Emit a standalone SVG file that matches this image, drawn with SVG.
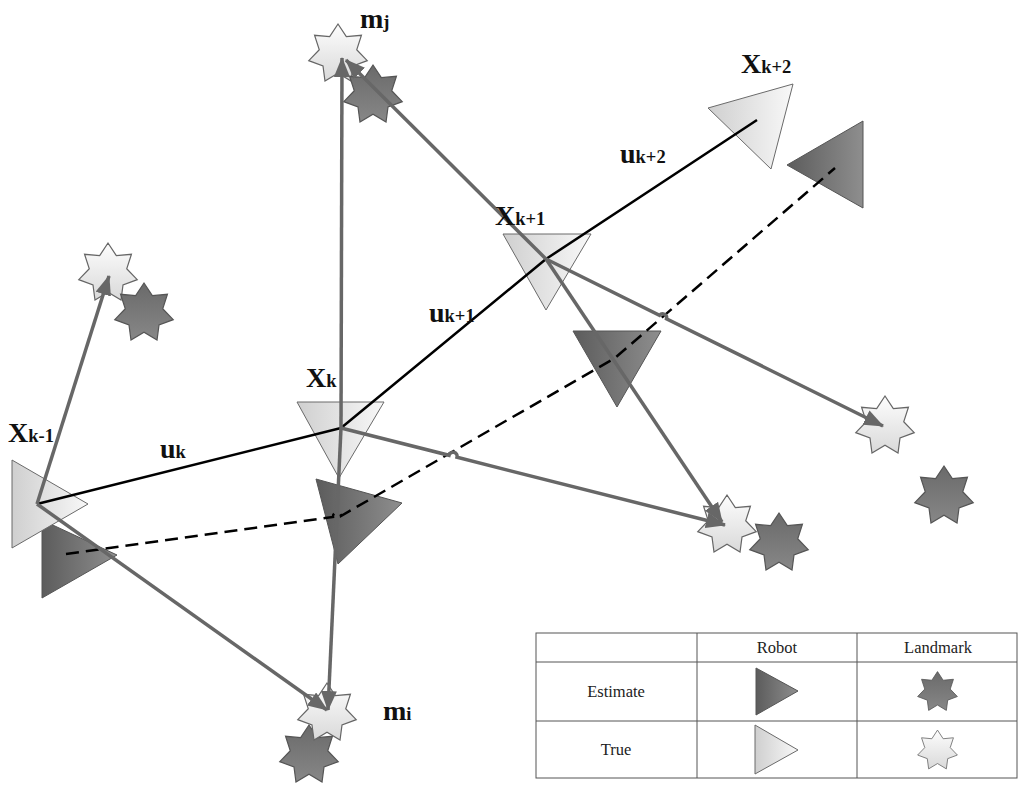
<svg xmlns="http://www.w3.org/2000/svg" width="1024" height="792" viewBox="0 0 1024 792">
<defs>
<linearGradient id="gLightTri" x1="0" y1="0" x2="1" y2="0"><stop offset="0" stop-color="#cfcfcf"/><stop offset="1" stop-color="#f8f8f8"/></linearGradient>
<linearGradient id="gDarkTri" x1="0" y1="0" x2="1" y2="0"><stop offset="0" stop-color="#5c5c5c"/><stop offset="1" stop-color="#8e8e8e"/></linearGradient>
<linearGradient id="gLightStar" x1="0" y1="0" x2="0" y2="1"><stop offset="0" stop-color="#fdfdfd"/><stop offset="1" stop-color="#d9d9d9"/></linearGradient>
<linearGradient id="gDarkStar" x1="0" y1="0" x2="0" y2="1"><stop offset="0" stop-color="#6a6a6a"/><stop offset="1" stop-color="#878787"/></linearGradient>
<path id="star" d="M0,-30 L8.33,-17.3 L23.45,-18.71 L18.72,-4.27 L29.25,6.68 L15.01,11.97 L13.02,27.03 L0,19.2 L-13.02,27.03 L-15.01,11.97 L-29.25,6.68 L-18.72,-4.27 L-23.45,-18.71 L-8.33,-17.3 Z"/>
<marker id="arrow" markerUnits="userSpaceOnUse" markerWidth="20" markerHeight="16" viewBox="0 0 20 16" refX="19" refY="8" orient="auto">
<path d="M0,0 L20,8 L0,16 Z" fill="#676767"/>
</marker>
</defs>
<style>
.lt{fill:url(#gLightTri);stroke:#6a6a6a;stroke-width:1}
.dt{fill:url(#gDarkTri);stroke:#555;stroke-width:1}
.ls{fill:url(#gLightStar);stroke:#666;stroke-width:1.2}
.ds{fill:url(#gDarkStar);stroke:#555;stroke-width:1.2}
.obs{fill:none;stroke:#676767;stroke-width:3.5;marker-end:url(#arrow)}
.odo{fill:none;stroke:#000;stroke-width:2.5;stroke-linejoin:round}
.est{fill:none;stroke:#000;stroke-width:2.5;stroke-dasharray:13 7}
.lbl{font-family:"Liberation Serif","Times New Roman",serif;font-weight:bold;font-size:28px;fill:#111}
.sub{font-size:18.5px}
.leg{font-family:"Liberation Serif","Times New Roman",serif;font-size:16.5px;fill:#222;text-anchor:middle}
.grid{fill:none;stroke:#555;stroke-width:1}
</style>
<rect width="1024" height="792" fill="#fff"/>

<g id="robot-poses">
<g id="x-k-1"><polygon class="dt" points="42,520 42,598 117,555"/><polygon class="lt" points="12,460 12,548 88,504"/></g>
<g id="x-k"><polygon class="lt" points="297,402 384,402 339,478"/><polygon class="dt" points="316,479 402,503 338,564"/></g>
<g id="x-k+1"><polygon class="lt" points="503,234 591,234 546,310"/><polygon class="dt" points="573,331 661,331 617,407"/></g>
<g id="x-k+2"><polygon class="lt" points="708,108 793,84 771,169"/><polygon class="dt" points="787,165 863,121 863,208"/></g>
</g>

<g id="landmarks">
<g id="m-j"><use href="#star" class="ls" transform="translate(338,54)"/><use href="#star" class="ds" transform="translate(373,95)"/></g>
<g id="m-left"><use href="#star" class="ls" transform="translate(108,273)"/><use href="#star" class="ds" transform="translate(144,313)"/></g>
<g id="m-i"><use href="#star" class="ds" transform="translate(309,755)"/><use href="#star" class="ls" transform="translate(327,713)"/></g>
<g id="m-right"><use href="#star" class="ls" transform="translate(885,426)"/><use href="#star" class="ds" transform="translate(944,496)"/></g>
<g id="m-bottom"><use href="#star" class="ls" transform="translate(727,525)"/><use href="#star" class="ds" transform="translate(779,543)"/></g>
</g>

<g id="connectors">
<path class="odo" d="M37,504 L341,428 L546,259 L757,120"/>
<path class="est" d="M66,554 L333,517 A4,4 0 0,1 341,516 L615,358 L835,168"/>
<path class="obs" d="M37,504 L109,276"/>
<path class="obs" d="M37,504 L327,710"/>
<path class="obs" d="M341,428 L342,58"/>
<path class="obs" d="M341,428 L328,710"/>
<path class="obs" d="M341,428 L449,455.3 A4,4 0 0,1 457,457.3 L725,525"/>
<path class="obs" d="M546,259 L346,60"/>
<path class="obs" d="M546,259 L722,522"/>
<path class="obs" d="M546,259 L659.5,315.3 A4,4 0 0,1 666.5,318.8 L883,426"/>
</g>

<g id="labels">
<text class="lbl" x="8" y="442">X<tspan class="sub">k-1</tspan></text>
<text class="lbl" x="306" y="387">X<tspan class="sub">k</tspan></text>
<text class="lbl" x="495" y="225">X<tspan class="sub">k+1</tspan></text>
<text class="lbl" x="741" y="73">X<tspan class="sub">k+2</tspan></text>
<text class="lbl" x="160" y="458">u<tspan class="sub">k</tspan></text>
<text class="lbl" x="429" y="322">u<tspan class="sub">k+1</tspan></text>
<text class="lbl" x="620" y="163">u<tspan class="sub">k+2</tspan></text>
<text class="lbl" x="360" y="28">m<tspan class="sub">j</tspan></text>
<text class="lbl" x="383" y="720">m<tspan class="sub">i</tspan></text>
</g>

<g id="legend">
<rect class="grid" x="536" y="633" width="481" height="145"/>
<line class="grid" x1="536" y1="662" x2="1017" y2="662"/>
<line class="grid" x1="536" y1="721" x2="1017" y2="721"/>
<line class="grid" x1="697" y1="633" x2="697" y2="778"/>
<line class="grid" x1="857" y1="633" x2="857" y2="778"/>
<text class="leg" x="777" y="653">Robot</text>
<text class="leg" x="938" y="653">Landmark</text>
<text class="leg" x="616" y="697">Estimate</text>
<text class="leg" x="616" y="755">True</text>
<polygon class="dt" points="756,668 756,715 798,691"/>
<polygon class="lt" points="755,725 755,774 798,750"/>
<use href="#star" class="ds" transform="translate(937.5,692) scale(0.68)"/>
<use href="#star" class="ls" transform="translate(937.5,750.5) scale(0.68)"/>
</g>
</svg>
